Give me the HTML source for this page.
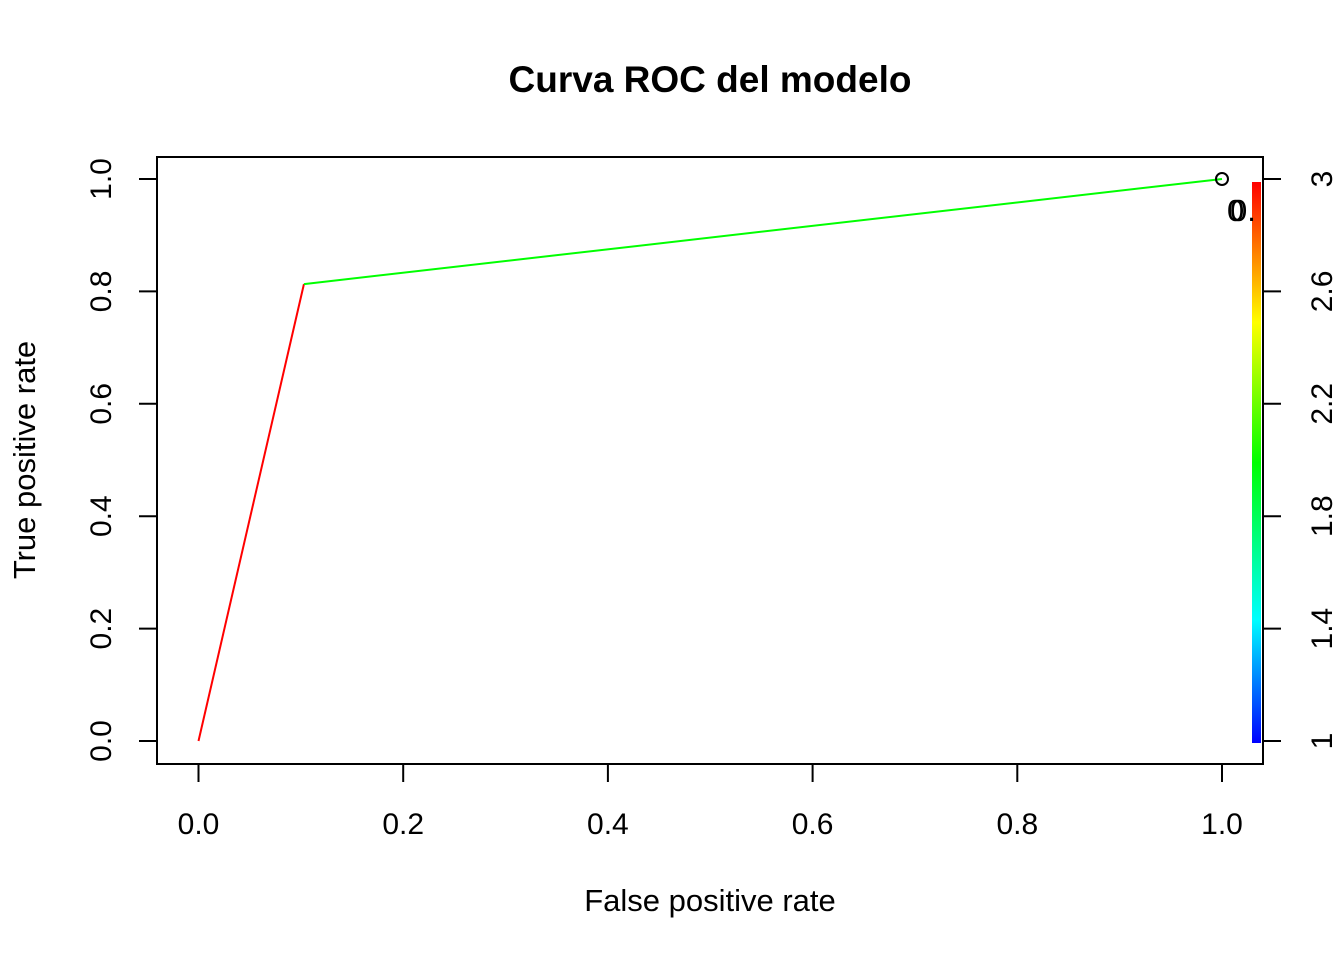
<!DOCTYPE html>
<html><head><meta charset="utf-8"><style>body{margin:0;background:#fff}svg{display:block;font-family:"Liberation Sans",Arial,sans-serif}</style></head>
<body>
<svg id="chart" width="1344" height="960" viewBox="0 0 1344 960">
<defs>
<linearGradient id="rb" x1="0" y1="1" x2="0" y2="0">
<stop offset="0" stop-color="#0000ff"/><stop offset="0.22" stop-color="#00ffff"/><stop offset="0.5" stop-color="#00ff00"/><stop offset="0.75" stop-color="#ffff00"/><stop offset="1" stop-color="#ff0000"/>
</linearGradient>
<clipPath id="pc"><rect x="157" y="157" width="1106" height="607"/></clipPath>
</defs>
<text x="710" y="92" text-anchor="middle" font-size="37" font-weight="bold">Curva ROC del modelo</text>
<text x="710" y="911" text-anchor="middle" font-size="31">False positive rate</text>
<text transform="translate(35,460) rotate(-90)" text-anchor="middle" font-size="31">True positive rate</text>
<rect x="157" y="157" width="1106" height="607" fill="none" stroke="#000" stroke-width="2"/>
<rect x="1252" y="182" width="9" height="561" fill="url(#rb)" clip-path="url(#pc)"/>
<g id="axes"></g>
<g id="marks" clip-path="url(#pc)"></g>
</svg>
<script>
const fpr = [0, 0.103, 1];
const tpr = [0, 0.813, 1];
const segColors = ['#ff0000', '#00ff00'];
const xTicks = [0, 0.2, 0.4, 0.6, 0.8, 1];
const xTickLabels = ['0.0','0.2','0.4','0.6','0.8','1.0'];
const yTicks = [0, 0.2, 0.4, 0.6, 0.8, 1];
const yTickLabels = ['0.0','0.2','0.4','0.6','0.8','1.0'];
const cutTicks = [1, 1.4, 1.8, 2.2, 2.6, 3];
const cutTickLabels = ['1','1.4','1.8','2.2','2.6','3'];
const X = v => 198.5 + v * 1023.5;
const Y = v => 741 - v * 562;
const C = v => 741 - (v - 1) / 2 * 562;
const NS = 'http://www.w3.org/2000/svg';
const axes = document.getElementById('axes'), marks = document.getElementById('marks');
function mk(tag, attrs, parent, txt){const e=document.createElementNS(NS,tag);for(const k in attrs)e.setAttribute(k,attrs[k]);if(txt!==undefined)e.textContent=txt;parent.appendChild(e);return e;}
xTicks.forEach((t,i)=>{
  const l=mk('line',{x1:X(t),x2:X(t),y1:764,y2:782,stroke:'#000','stroke-width':2},axes);
  
  
  const tx=mk('text',{x:X(t),y:834,'text-anchor':'middle','font-size':30},axes,xTickLabels[i]);
  
  
});
yTicks.forEach((t,i)=>{
  const l=mk('line',{x1:139,x2:157,y1:Y(t),y2:Y(t),stroke:'#000','stroke-width':2},axes);
  
  
  const tx=mk('text',{transform:`translate(111,${Y(t)}) rotate(-90)`,'text-anchor':'middle','font-size':30},axes,yTickLabels[i]);
  
  
});
cutTicks.forEach((t,i)=>{
  const l=mk('line',{x1:1263,x2:1281,y1:C(t),y2:C(t),stroke:'#000','stroke-width':2},axes);
  
  
  const tx=mk('text',{transform:`translate(1332,${C(t)}) rotate(-90)`,'text-anchor':'middle','font-size':30},axes,cutTickLabels[i]);
  
  
});
for(let i=0;i<fpr.length-1;i++){
  const l=mk('line',{x1:X(fpr[i]),y1:Y(tpr[i]),x2:X(fpr[i+1]),y2:Y(tpr[i+1]),stroke:segColors[i],'stroke-width':2},marks);
  
  
}
const pt=mk('circle',{cx:X(1),cy:Y(1),r:6,fill:'none',stroke:'#000','stroke-width':2},marks);


const lab=mk('text',{x:X(1)+8,y:Y(1)+42,'font-size':31},marks,'0.');


const lab2=mk('text',{x:X(1)+5,y:Y(1)+42,'font-size':31},marks,'0');


</script>
</body></html>
